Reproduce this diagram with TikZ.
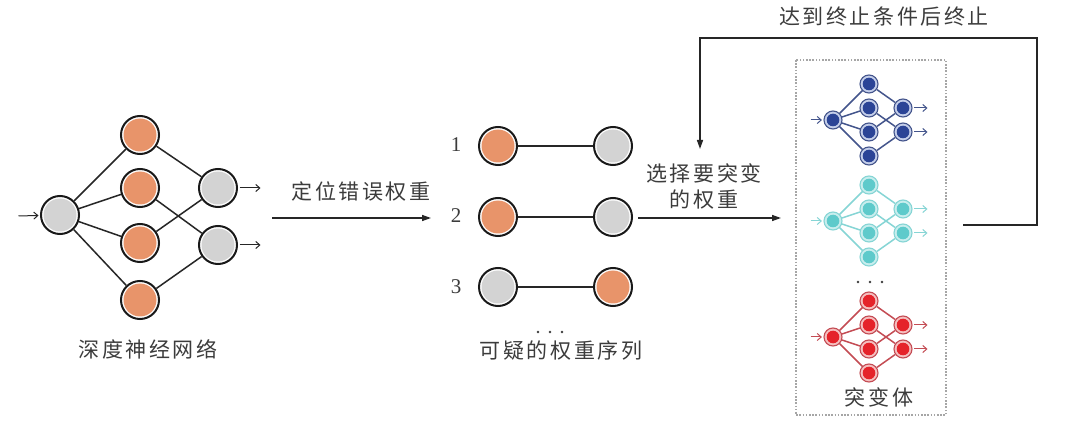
\documentclass[tikz,border=0pt]{standalone}
\usepackage{fontspec}
\setmainfont{Liberation Serif}
\newfontfamily\cjk[LetterSpace=12]{Noto Sans CJK SC}
\usetikzlibrary{arrows.meta}
\definecolor{txt}{HTML}{3C3C3C}
\definecolor{norange}{HTML}{E8946A}
\definecolor{ngray}{HTML}{D3D3D3}
\definecolor{bline}{HTML}{44558C}
\definecolor{bring}{HTML}{C5CFEA}
\definecolor{bfill}{HTML}{2B4496}
\definecolor{tline}{HTML}{86D5D5}
\definecolor{tring}{HTML}{C9EEEE}
\definecolor{tfill}{HTML}{5ECACB}
\definecolor{rline}{HTML}{C44C54}
\definecolor{rring}{HTML}{F5C0C0}
\definecolor{rfill}{HTML}{E5232A}
\tikzset{
  neuron/.style={circle, minimum size=38pt, inner sep=0pt, draw=black!90, line width=2pt, fill=white,
    path picture={\fill[#1] (path picture bounding box.center) circle (16.5pt);}},
  mn/.style n args={3}{circle, minimum size=18pt, inner sep=0pt, draw=#1, line width=1.1pt, fill=#2,
    path picture={\fill[#3] (path picture bounding box.center) circle (6.3pt);}},
  edge/.style={draw=black!85, line width=1.5pt},
  medge/.style={draw=#1, line width=1.5pt},
  sarrow/.style={draw=#1, line width=1pt, -{Straight Barb[length=4pt,width=7pt]}, shorten >=1.5pt, shorten <=1.5pt},
  bigarrow/.style={draw=black!85, line width=1.5pt, -{Triangle[length=9pt,width=6pt]}},
  lbl/.style={text=txt, font=\cjk\fontsize{21}{27}\selectfont, inner sep=0pt, align=center},
  num/.style={text=txt, font=\fontsize{21}{24}\selectfont, inner sep=0pt},
}
\newcommand\mutnet[5]{%
  \begin{scope}[shift={(0,#2)}]
    \node[mn={#3}{#4}{#5}] (#1i) at (833,120) {};
    \node[mn={#3}{#4}{#5}] (#1a) at (869,84) {};
    \node[mn={#3}{#4}{#5}] (#1b) at (869,108) {};
    \node[mn={#3}{#4}{#5}] (#1c) at (869,132) {};
    \node[mn={#3}{#4}{#5}] (#1d) at (869,156) {};
    \node[mn={#3}{#4}{#5}] (#1o) at (903,108) {};
    \node[mn={#3}{#4}{#5}] (#1p) at (903,132) {};
    \coordinate (#1in) at (809,120);
    \coordinate (#1oa) at (929,108);
    \coordinate (#1ob) at (929,132);
    \draw[medge=#3] (#1i) -- (#1a) (#1i) -- (#1b) (#1i) -- (#1c) (#1i) -- (#1d)
      (#1a) -- (#1o) (#1c) -- (#1o) (#1b) -- (#1p) (#1d) -- (#1p);
    \draw[sarrow=#3] (#1in) -- (#1i);
    \draw[sarrow=#3] (#1o) -- (#1oa);
    \draw[sarrow=#3] (#1p) -- (#1ob);
  \end{scope}}
\begin{document}
\begin{tikzpicture}[x=1pt,y=-1pt]
\useasboundingbox[fill=white] (0,0) rectangle (1080,422);
% left network
\node[neuron=ngray] (in) at (60,215) {};
\node[neuron=norange] (h1) at (140,135) {};
\node[neuron=norange] (h2) at (140,188) {};
\node[neuron=norange] (h3) at (140,243) {};
\node[neuron=norange] (h4) at (140,300) {};
\node[neuron=ngray] (o1) at (218,188) {};
\node[neuron=ngray] (o2) at (218,245) {};
\draw[edge] (in) -- (h1) (in) -- (h2) (in) -- (h3) (in) -- (h4)
  (h1) -- (o1) (h3) -- (o1) (h2) -- (o2) (h4) -- (o2);
\coordinate (inA) at (17,216);
\coordinate (o1A) at (262,188);
\coordinate (o2A) at (262,245);
\draw[sarrow=black!85] (inA) -- (in);
\draw[sarrow=black!85] (o1) -- (o1A);
\draw[sarrow=black!85] (o2) -- (o2A);
\node[lbl] (dnn) at (148,349) {深度神经网络};
% arrow 1
\coordinate (a1s) at (272,218);
\coordinate (a1e) at (431,218);
\draw[bigarrow] (a1s) -- (a1e);
\node[lbl] (loc) at (361,192) {定位错误权重};
% middle
\node[num] (n1) at (456,145) {1};
\node[num] (n2) at (456,216) {2};
\node[num] (n3) at (456,287) {3};
\node[neuron=norange] (l1) at (498,146) {};
\node[neuron=ngray] (r1) at (613,146) {};
\node[neuron=norange] (l2) at (498,217) {};
\node[neuron=ngray] (r2) at (613,217) {};
\node[neuron=ngray] (l3) at (498,287) {};
\node[neuron=norange] (r3) at (613,287) {};
\draw[edge] (l1) -- (r1) (l2) -- (r2) (l3) -- (r3);
\fill[txt] (538,332) circle (1.3) (550,332) circle (1.3) (562,332) circle (1.3);
\node[lbl] (seq) at (561,351) {可疑的权重序列};
% arrow 2
\coordinate (a2s) at (638,218);
\coordinate (a2e) at (781,218);
\draw[bigarrow] (a2s) -- (a2e);
\node[lbl] (sel) at (704,186) {选择要突变\\[-1pt]的权重};
% mutants box
\draw[draw=black!35, line width=1.6pt, dash pattern=on 1.6pt off 1.6pt] (796,60) rectangle (946,415);
\mutnet{B}{0}{bline}{bring}{bfill}
\mutnet{T}{101}{tline}{tring}{tfill}
\mutnet{R}{217}{rline}{rring}{rfill}
\fill[txt] (858,282) circle (1.3) (870,282) circle (1.3) (882,282) circle (1.3);
\node[lbl] (mut) at (879,397) {突变体};
% feedback loop
\coordinate (fbS) at (963,225);
\coordinate (fbR) at (1037,225);
\coordinate (fbT) at (1037,38);
\coordinate (fbL) at (700,38);
\coordinate (fbE) at (700,149);
\draw[bigarrow] (fbS) -- (fbR) -- (fbT) -- (fbL) -- (fbE);
\node[lbl] (stop) at (884,17) {达到终止条件后终止};
\end{tikzpicture}
\end{document}
